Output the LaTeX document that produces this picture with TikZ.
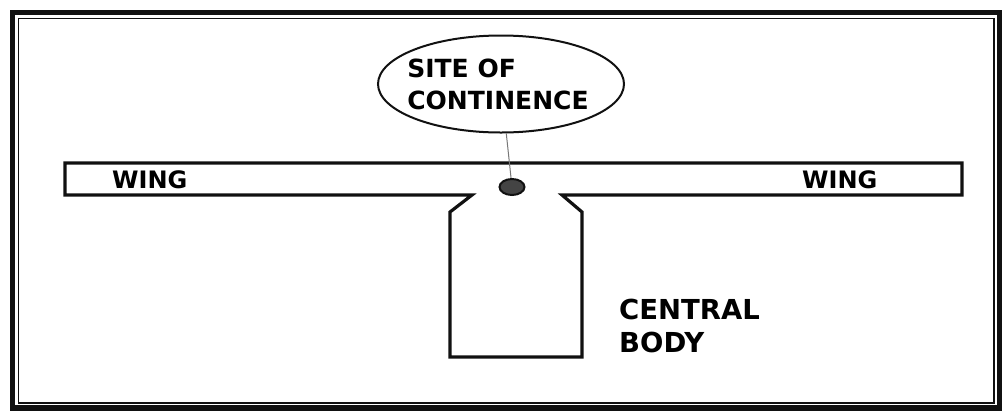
\documentclass[tikz,border=0pt]{standalone}
\usepackage{fontspec}
\setmainfont{DejaVu Sans}
\usepackage{xcolor}
\usetikzlibrary{calc,positioning,shapes.geometric}
\definecolor{inkc}{HTML}{111111}
\definecolor{dotc}{HTML}{444444}
\definecolor{leadc}{HTML}{777777}
\tikzset{
  outl/.style={draw=inkc,line width=3.2pt,line join=miter},
  lbl/.style={font=\bfseries\fontsize{24}{27}\selectfont,inner sep=0pt,anchor=base west},
  bubble/.style={ellipse,draw=inkc,line width=2pt,minimum width=246pt,minimum height=97pt,inner sep=0pt},
  spot/.style={ellipse,draw=inkc,line width=2pt,fill=dotc,minimum width=25pt,minimum height=16pt,inner sep=0pt}
}
\begin{document}
\begin{tikzpicture}[x=1pt,y=-1pt]
\useasboundingbox (0,0) rectangle (1003,413);
% frame
\draw[inkc,line width=5.5pt] (12.5,12.5) rectangle (999.5,408);
\draw[inkc,line width=1.3pt] (18.5,18.5) rectangle (994,403);
% wings and central body
\draw[outl] (65,163) -- (962,163) -- (962,195) -- (562,195) -- (582,212)
  -- (582,357) -- (450,357) -- (450,212) -- (472,195) -- (65,195) -- cycle;
% labels
\node[lbl] (wingL) at (112,188) {WING};
\node[lbl] (wingR) at (802,188) {WING};
\node[lbl,font=\bfseries\fontsize{27.5}{33}\selectfont,align=left,anchor=north west] (body) at (619,299) {CENTRAL\\BODY};
% site of continence
\node[bubble] (site) at (501,84) {};
\node[font=\bfseries\fontsize{25}{32}\selectfont,align=left,inner sep=0pt] (sitetxt) at (498,84) {SITE OF\\CONTINENCE};
\node[spot] (dot) at (512,187) {};
\draw[leadc,line width=1pt] (site) -- (dot);
\end{tikzpicture}
\end{document}
